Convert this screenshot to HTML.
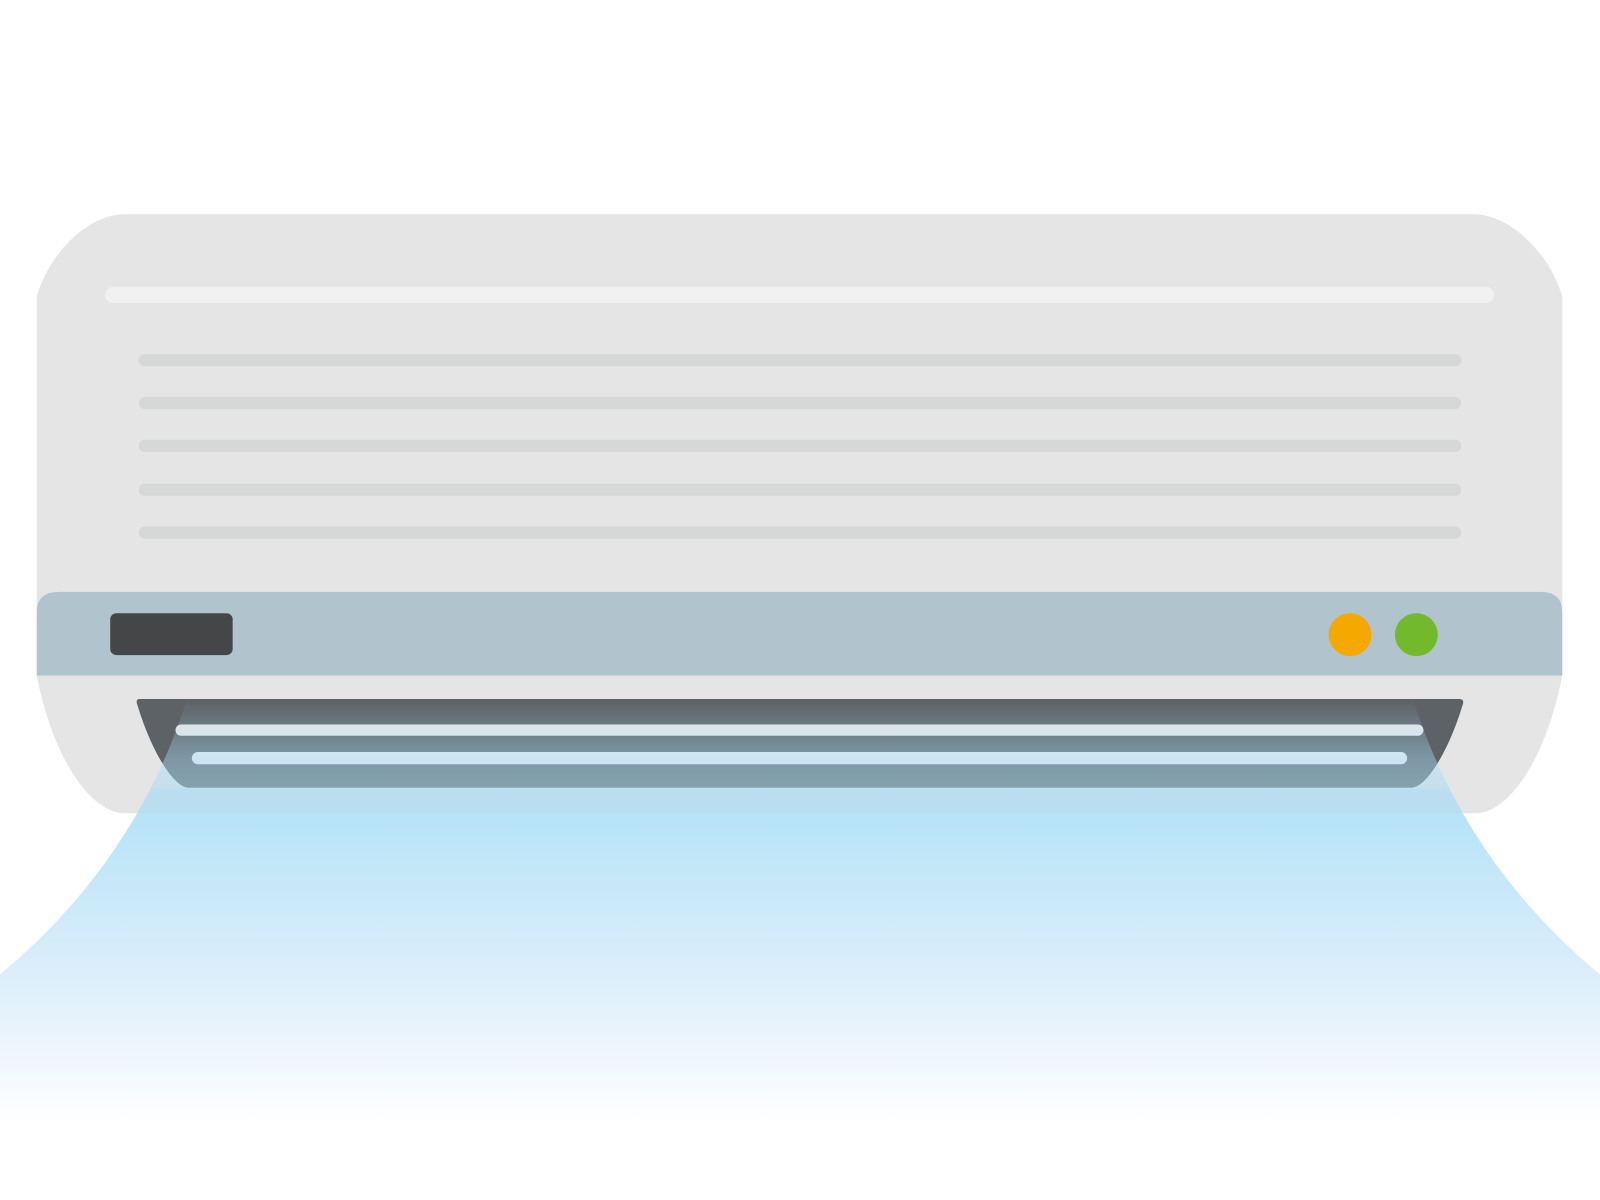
<!DOCTYPE html>
<html><head><meta charset="utf-8"><style>
html,body{margin:0;padding:0;background:#fff;}
svg{display:block;}
</style></head><body>
<svg width="1600" height="1200" viewBox="0 0 1568 1176" xmlns="http://www.w3.org/2000/svg">
<defs>
<linearGradient id="air" x1="0" y1="685" x2="0" y2="1100" gradientUnits="userSpaceOnUse">
<stop offset="0" stop-color="#a9dcf3" stop-opacity="0"/>
<stop offset="0.145" stop-color="#a9dcf3" stop-opacity="0.45"/>
<stop offset="0.21" stop-color="#a9dcf3" stop-opacity="0.52"/>
<stop offset="0.212" stop-color="#a9dcf3" stop-opacity="0.7"/>
<stop offset="0.27" stop-color="#a9dcf3" stop-opacity="0.75"/>
<stop offset="0.273" stop-color="#b2e2f7" stop-opacity="0.95"/>
<stop offset="0.65" stop-color="#d8ecfa" stop-opacity="0.9"/>
<stop offset="1" stop-color="#ffffff" stop-opacity="1"/>
</linearGradient>
</defs>
<path d="M36 290 C50 245 88 210 122 210 L1444 210 C1478 210 1517 245 1531 290 L1531 662 C1515 745 1478 797 1446 797 L122 797 C90 797 52 745 36 662 Z" fill="#e5e5e5"/>
<rect x="103" y="281" width="1361" height="16" rx="8" fill="#f1f1f1"/>
<g fill="#d6d7d7">
<rect x="136" y="347" width="1296" height="12" rx="6"/>
<rect x="136" y="389" width="1296" height="12" rx="6"/>
<rect x="136" y="431" width="1296" height="12" rx="6"/>
<rect x="136" y="474" width="1296" height="12" rx="6"/>
<rect x="136" y="516" width="1296" height="12" rx="6"/>
</g>
<path d="M36 600 Q36 580 58 580 L1510 580 Q1531 580 1531 600 L1531 662 L36 662 Z" fill="#b1c3cc"/>
<rect x="108" y="601" width="120" height="41" rx="6" fill="#454648"/>
<circle cx="1323" cy="622" r="21" fill="#f5a800"/>
<circle cx="1388" cy="622" r="21" fill="#72b92c"/>
<path d="M137 685 L1430 685 Q1436 685 1433 692 C1420 735 1398 772 1383 772 L185 772 C170 772 148 735 135 692 Q132 685 137 685 Z" fill="#5c6265"/>
<rect x="172" y="710" width="1223" height="11" rx="5.5" fill="#e8e8e8"/>
<rect x="188" y="737" width="1191" height="12" rx="6" fill="#e6ecef"/>
<path d="M183 686 C150 790 90 880 0 955 L0 1176 L1568 1176 L1568 955 C1478 880 1418 790 1385 686 Z" fill="url(#air)"/>
</svg>
</body></html>
